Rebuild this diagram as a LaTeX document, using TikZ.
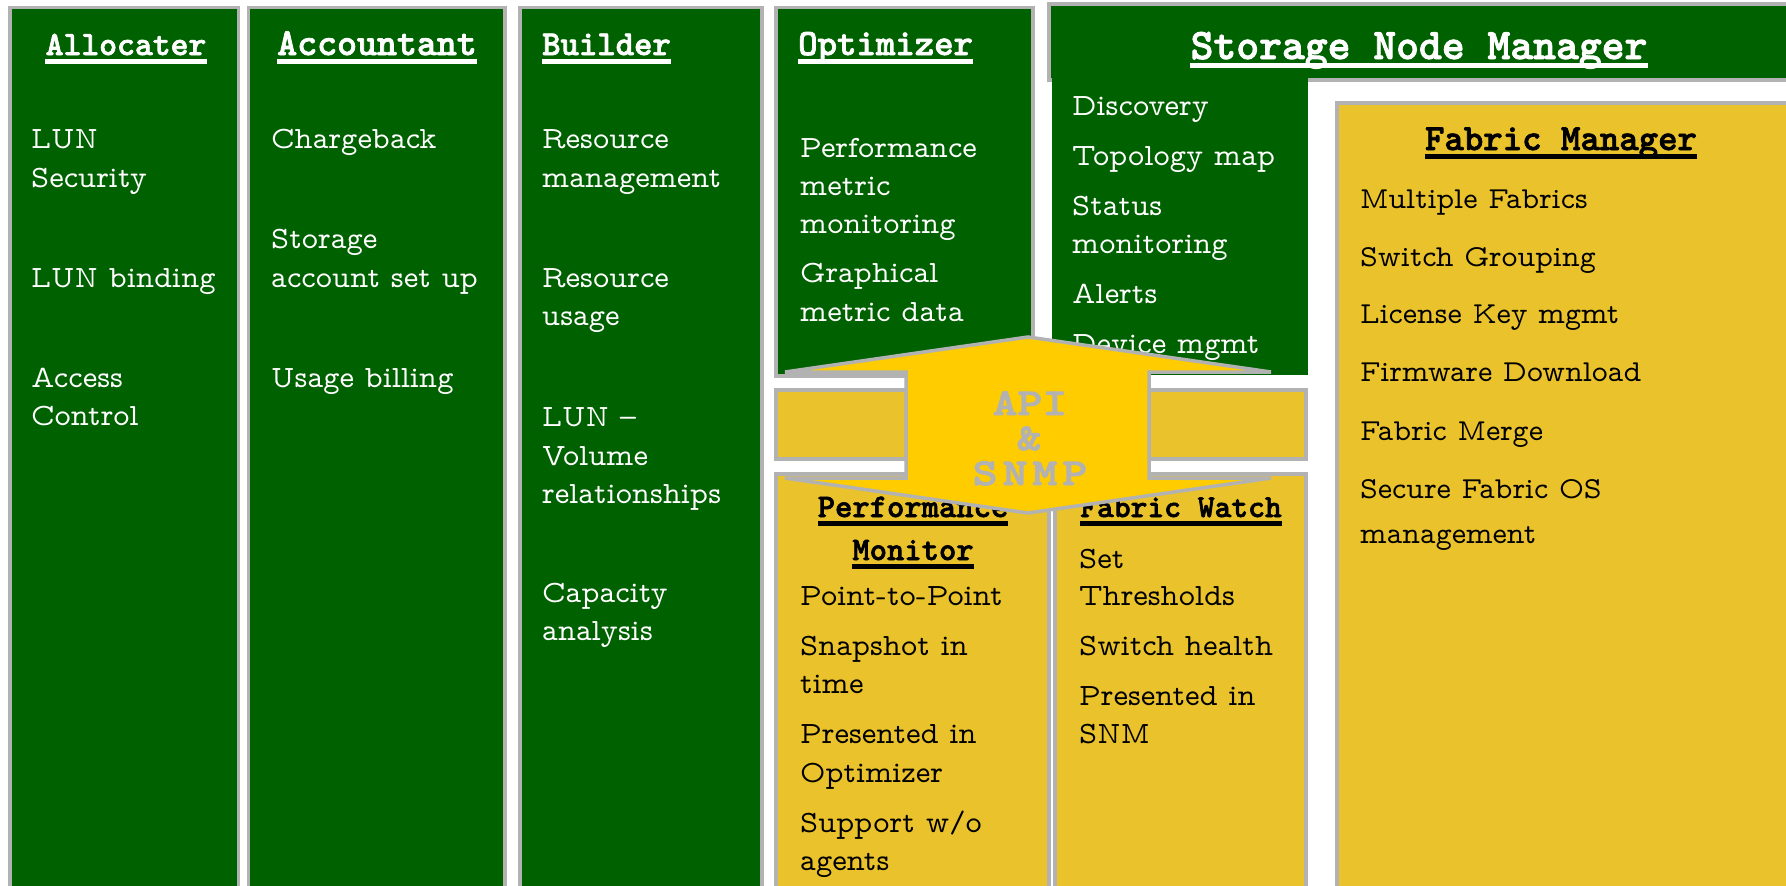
\documentclass[tikz,border=0pt]{standalone}
\usepackage{fontspec}
\usetikzlibrary{calc}
\newfontfamily\skttb[FakeBold=2]{lmmonolt10-bold.otf}
\newfontfamily\skapifont[FakeBold=2.5,FakeStretch=1.25]{lmmonolt10-bold.otf}
\definecolor{sgreen}{RGB}{0,97,0}
\definecolor{syellow}{RGB}{234,194,44}
\definecolor{sgold}{RGB}{255,204,0}
\definecolor{bgray}{RGB}{178,178,178}
\newcommand\skbody{\fontfamily{lmvtt}\fontsize{31}{38}\selectfont}
\newcommand\skfm{\fontfamily{lmvtt}\fontsize{30.5}{38}\selectfont}
\newcommand\skt[1]{\skttb\fontsize{#1}{#1}\selectfont}
\tikzset{
  gbox/.style={fill=sgreen, draw=bgray, line width=3.5pt},
  ybox/.style={fill=syellow, draw=bgray, line width=3.5pt},
  iw/.style={anchor=base west, inner sep=0pt, text=white, font=\skbody},
  ib/.style={anchor=base west, inner sep=0pt, text=black, font=\skbody},
  ibf/.style={anchor=base west, inner sep=0pt, text=black, font=\skfm},
  tw/.style={anchor=base, inner sep=0pt, text=white},
  tb/.style={anchor=base, inner sep=0pt, text=black},
  twl/.style={anchor=base west, inner sep=0pt, text=white},
  apitext/.style={anchor=base, inner sep=0pt, text=bgray, font={\skapifont\fontsize{38}{40}\selectfont}},
}
\begin{document}
\begin{tikzpicture}[x=1pt,y=-1pt]
\useasboundingbox (0,0) rectangle (1786,886);
\clip (0,0) rectangle (1786,886);
\fill[white] (0,0) rectangle (1786,886);

% ---- boxes
\draw[gbox] (10,7.5) rectangle (238.5,900);
\draw[gbox] (248.5,7.5) rectangle (505,900);
\draw[gbox] (520,7.5) rectangle (762,900);
\draw[gbox] (776,7.5) rectangle (1033,376);
\draw[gbox] (1049,4) rectangle (1800,80);
\fill[sgreen] (1052,78) rectangle (1308,375);
\draw[ybox] (1337,103) rectangle (1800,900);
\draw[ybox] (776,390) rectangle (1306,459);
\draw[ybox] (776,474) rectangle (1049,900);
\draw[ybox] (1055,474) rectangle (1306,900);

% ---- Allocater
\node[tw, font={\skt{34}}] (tA) at (126,55) {Allocater};
\fill[white] ($(tA.base west)+(0,4)$) rectangle ($(tA.base east)+(0,9)$);
\node[iw] (a1) at (31,148) {LUN};
\node[iw] (a2) at (31,187) {Security};
\node[iw] (a3) at (31,287) {LUN binding};
\node[iw] (a4) at (31,387) {Access};
\node[iw] (a5) at (31,425) {Control};

% ---- Accountant
\node[tw, font={\skt{38}}] (tB) at (377,55) {Accountant};
\fill[white] ($(tB.base west)+(0,4)$) rectangle ($(tB.base east)+(0,9)$);
\node[iw] (b1) at (271,148) {Chargeback};
\node[iw] (b2) at (271,248) {Storage};
\node[iw] (b3) at (271,287) {account set up};
\node[iw] (b4) at (271,387) {Usage billing};

% ---- Builder
\node[twl, font={\skt{35}}] (tC) at (542,55) {Builder};
\fill[white] ($(tC.base west)+(0,4)$) rectangle ($(tC.base east)+(0,9)$);
\node[iw] (c1) at (542,148) {Resource};
\node[iw] (c2) at (542,187) {management};
\node[iw] (c3) at (542,287) {Resource};
\node[iw] (c4) at (542,325) {usage};
\node[iw] (c5) at (542,426) {LUN –};
\node[iw] (c6) at (542,465) {Volume};
\node[iw] (c7) at (542,503) {relationships};
\node[iw] (c8) at (542,602) {Capacity};
\node[iw] (c9) at (542,640) {analysis};

% ---- Optimizer
\node[twl, font={\skt{37}}] (tD) at (798,55) {Optimizer};
\fill[white] ($(tD.base west)+(0,4)$) rectangle ($(tD.base east)+(0,9)$);
\node[iw] (d1) at (800,157) {Performance};
\node[iw] (d2) at (800,195) {metric};
\node[iw] (d3) at (800,233) {monitoring};
\node[iw] (d4) at (800,282) {Graphical};
\node[iw] (d5) at (800,321) {metric data};

% ---- Storage Node Manager
\node[tw, font={\skt{43.5}}] (tE) at (1419,59) {Storage Node Manager};
\fill[white] ($(tE.base west)+(0,4)$) rectangle ($(tE.base east)+(0,9)$);
\node[iw] (e1) at (1072,115) {Discovery};
\node[iw] (e2) at (1072,165) {Topology map};
\node[iw] (e3) at (1072,215) {Status};
\node[iw] (e4) at (1072,253) {monitoring};
\node[iw] (e5) at (1072,303) {Alerts};
\node[iw] (e6) at (1072,353) {Device mgmt};

% ---- Fabric Manager
\node[tb, font={\skt{37}}] (tF) at (1561,150) {Fabric Manager};
\fill[black] ($(tF.base west)+(0,4)$) rectangle ($(tF.base east)+(0,9)$);
\node[ibf] (f1) at (1360,208) {Multiple Fabrics};
\node[ibf] (f2) at (1360,266) {Switch Grouping};
\node[ibf] (f3) at (1360,323) {License Key mgmt};
\node[ibf] (f4) at (1360,381) {Firmware Download};
\node[ibf] (f5) at (1360,440) {Fabric Merge};
\node[ibf] (f6) at (1360,498) {Secure Fabric OS};
\node[ibf] (f7) at (1360,543) {management};

% ---- Performance Monitor
\node[tb, font={\skt{33}}] (tG) at (913,517) {Performance};
\fill[black] ($(tG.base west)+(0,4)$) rectangle ($(tG.base east)+(0,9)$);
\node[tb, font={\skt{33}}] (tG2) at (913,560) {Monitor};
\fill[black] ($(tG2.base west)+(0,4)$) rectangle ($(tG2.base east)+(0,9)$);
\node[ib] (g1) at (800,605) {Point-to-Point};
\node[ib] (g2) at (800,655) {Snapshot in};
\node[ib] (g3) at (800,693) {time};
\node[ib] (g4) at (800,743) {Presented in};
\node[ib] (g5) at (800,782) {Optimizer};
\node[ib] (g6) at (800,832) {Support w/o};
\node[ib] (g7) at (800,870) {agents};

% ---- Fabric Watch
\node[tb, font={\skt{32}}] (tH) at (1181,517) {Fabric Watch};
\fill[black] ($(tH.base west)+(0,4)$) rectangle ($(tH.base east)+(0,9)$);
\node[ib] (h1) at (1079,568) {Set};
\node[ib] (h2) at (1079,605) {Thresholds};
\node[ib] (h3) at (1079,655) {Switch health};
\node[ib] (h4) at (1079,705) {Presented in};
\node[ib] (h5) at (1079,743) {SNM};

% ---- API & SNMP double arrow
\draw[fill=sgold, draw=bgray, line width=3.5pt, line join=miter]
  (1028,337) -- (1271,372) -- (1149,372) -- (1149,478) -- (1271,478)
  -- (1028,513) -- (785,478) -- (906,478) -- (906,372) -- (785,372) -- cycle;
\node[apitext] (api1) at (1030,415) {API};
\node[apitext] (api2) at (1029,450) {\&};
\node[apitext] (api3) at (1030,485) {S\kern5pt N\kern5pt M\kern5pt P};
\end{tikzpicture}
\end{document}
